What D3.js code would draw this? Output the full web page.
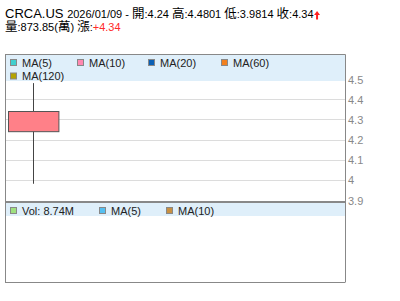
<!DOCTYPE html>
<html>
<head>
<meta charset="utf-8">
<script src="https://cdn.jsdelivr.net/npm/d3@7"></script>
<style>
  html, body { margin: 0; padding: 0; background: #fff; }
  svg { display: block; font-family: "Liberation Sans", Arial, "Noto Sans CJK TC", sans-serif; }
</style>
</head>
<body>
<div id="chart"></div>
<script>
// ---- data ----
const symbol = 'CRCA.US';
const dates = ['2026/01/09'];
const opens = [4.24];
const highs = [4.4801];
const lows = [3.9814];
const closes = [4.34];
const volumes = [8.74];          // millions
const volumeWan = '873.85';
const change = '+4.34';
const yTicks = [3.9, 4, 4.1, 4.2, 4.3, 4.4, 4.5];
const priceLegend = [
  { label: 'MA(5)', color: '#3fcfcf' },
  { label: 'MA(10)', color: '#ff88b0' },
  { label: 'MA(20)', color: '#0a5fb4' },
  { label: 'MA(60)', color: '#f2801e' },
  { label: 'MA(120)', color: '#b4a300' }
];
const volLegend = [
  { label: 'Vol: 8.74M', color: '#9ee07f' },
  { label: 'MA(5)', color: '#55bff0' },
  { label: 'MA(10)', color: '#c89042' }
];

const W = 400, H = 301;
const left = 5, right = 345;
const mainTop = 54.5, mainBottom = 201;
const volBottom = 282;

const svg = d3.select('#chart').append('svg')
  .attr('width', W).attr('height', H);

// header pieces: [text, isCJK]
function addPieces(textSel, pieces) {
  pieces.forEach(p => {
    textSel.append('tspan')
      .attr('font-size', p.cjk ? 12.5 : (p.size || 11))
      .attr('fill', p.color || null)
      .text(p.t);
  });
}

// ---- header ----
const head = svg.append('text').attr('x', 5).attr('y', 18).attr('fill', '#000');
addPieces(head, [
  { t: symbol + ' ', size: 13 },
  { t: `${dates[0]} - ` },
  { t: '開', cjk: true }, { t: `:${opens[0]} ` },
  { t: '高', cjk: true }, { t: `:${highs[0]} ` },
  { t: '低', cjk: true }, { t: `:${lows[0]} ` },
  { t: '收', cjk: true }, { t: `:${closes[0]}` }
]);

const headW = head.node().getComputedTextLength();
// red up arrow after the close
const ax = 5 + headW + 3.5;
svg.append('path')
  .attr('d', `M${ax},11 L${ax + 3},15 L${ax + 1},15 L${ax + 1},19.5 L${ax - 1},19.5 L${ax - 1},15 L${ax - 3},15 Z`)
  .attr('fill', '#ff2020');

const line2 = svg.append('text').attr('x', 5).attr('y', 30.5).attr('fill', '#000');
addPieces(line2, [
  { t: '量', cjk: true }, { t: `:${volumeWan}(` },
  { t: '萬', cjk: true }, { t: ') ' },
  { t: '漲', cjk: true }, { t: ':' },
  { t: change, color: '#ff2a2a' }
]);

// ---- scales ----
const x = d3.scaleBand().domain(dates).range([left, left + 56])
  .paddingInner(0.1).paddingOuter(0.05);
const y = d3.scaleLinear().domain([3.9, 4.5]).range([200.2, 79.1]);

// ---- grid ----
svg.append('g').selectAll('line')
  .data(yTicks.filter(t => t > 3.9 && t < 4.5))
  .join('line')
  .attr('x1', left).attr('x2', right)
  .attr('y1', d => Math.round(y(d)) + 0.5).attr('y2', d => Math.round(y(d)) + 0.5)
  .attr('stroke', '#dcdcdc');

// ---- legend bands ----
svg.append('rect').attr('x', left + 1).attr('y', mainTop + 0.5)
  .attr('width', right - left - 1).attr('height', 26).attr('fill', '#dfeffa');
svg.append('rect').attr('x', left + 1).attr('y', 203)
  .attr('width', right - left - 1).attr('height', 13).attr('fill', '#dfeffa');

const priceLegendPos = [[10, 59], [77, 59], [148, 59], [221, 59], [10, 72.5]];
const pl = svg.append('g').selectAll('g').data(priceLegend).join('g')
  .attr('transform', (d, i) => `translate(${priceLegendPos[i][0]},${priceLegendPos[i][1]})`);
pl.append('rect').attr('x', 0.5).attr('y', 0.5).attr('width', 6).attr('height', 6)
  .attr('fill', d => d.color).attr('stroke', '#888');
pl.append('text').attr('x', 12).attr('y', 7.5).attr('font-size', 11).attr('fill', '#222')
  .text(d => d.label);

const volLegendX = [10, 99, 166];
const vl = svg.append('g').selectAll('g').data(volLegend).join('g')
  .attr('transform', (d, i) => `translate(${volLegendX[i]},207)`);
vl.append('rect').attr('x', 0.5).attr('y', 0.5).attr('width', 6).attr('height', 6)
  .attr('fill', d => d.color).attr('stroke', '#888');
vl.append('text').attr('x', 12).attr('y', 7.5).attr('font-size', 11).attr('fill', '#222')
  .text(d => d.label);

// ---- candle ----
const candles = dates.map((d, i) => ({ date: d, o: opens[i], h: highs[i], l: lows[i], c: closes[i] }));
const cg = svg.append('g').selectAll('g').data(candles).join('g');
cg.append('line')
  .attr('x1', d => Math.round(x(d.date) + x.bandwidth() / 2) + 0.5)
  .attr('x2', d => Math.round(x(d.date) + x.bandwidth() / 2) + 0.5)
  .attr('y1', d => y(d.h)).attr('y2', d => y(d.l))
  .attr('stroke', '#444');
cg.append('rect')
  .attr('x', d => Math.round(x(d.date)) + 0.5)
  .attr('y', d => Math.round(y(Math.max(d.o, d.c))) + 0.5)
  .attr('width', x.bandwidth())
  .attr('height', d => Math.abs(y(d.o) - y(d.c)))
  .attr('fill', d => d.c >= d.o ? '#ff8088' : '#5ac05a')
  .attr('stroke', '#555');

// ---- borders ----
const border = svg.append('g').attr('fill', 'none').attr('stroke', '#888');
border.append('line').attr('x1', left).attr('x2', right + 0.5).attr('y1', mainTop).attr('y2', mainTop);
border.append('line').attr('x1', left + 0.5).attr('x2', left + 0.5).attr('y1', mainTop).attr('y2', volBottom);
border.append('line').attr('x1', right + 0.5).attr('x2', right + 0.5).attr('y1', mainTop).attr('y2', volBottom);
border.append('line').attr('x1', left).attr('x2', right + 0.5).attr('y1', volBottom + 0.5).attr('y2', volBottom + 0.5);
border.append('line').attr('x1', left).attr('x2', right + 0.5).attr('y1', mainBottom + 1).attr('y2', mainBottom + 1)
  .attr('stroke-width', 2);

// ---- right axis ----
svg.append('g').selectAll('text').data(yTicks).join('text')
  .attr('x', 348).attr('y', d => y(d)).attr('dy', '0.4em')
  .attr('font-size', 11).attr('fill', '#888')
  .text(d => d3.format('')(d));
</script>
</body>
</html>
